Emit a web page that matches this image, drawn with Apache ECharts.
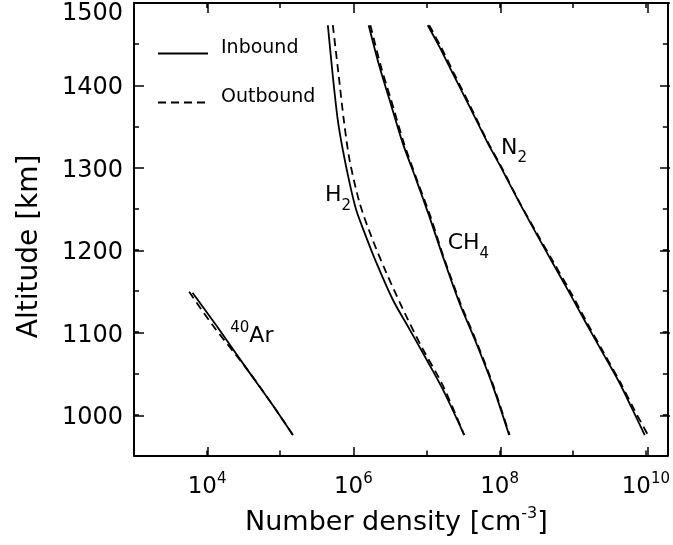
<!DOCTYPE html>
<html>
<head>
<meta charset="utf-8">
<script src="https://cdn.jsdelivr.net/npm/echarts@6/dist/echarts.min.js"></script>
<style>
html,body{margin:0;padding:0;background:#fff;}
#chart{width:673px;height:545px;}
</style>
</head>
<body>
<div id="chart"></div>
<script>
// ---- axis ranges & tick labels ----
const xMin = 1e3, xMax = 2e10;
const yMin = 950, yMax = 1500;
const xLabelExps = [4, 6, 8, 10];
const yLabelVals = [1000, 1100, 1200, 1300, 1400, 1500];

// ---- data: altitude [km] and number density [cm^-3] ----
const h2InAlt  = [1473, 1411, 1358, 1322, 1282, 1249, 1221, 1185, 1140, 1104, 1068, 1031, 975];
const h2InDen  = [4.48e5, 5.24e5, 6.12e5, 7.16e5, 8.85e5, 1.09e6, 1.42e6, 2.05e6, 3.44e6, 5.82e6, 9.84e6, 1.66e7, 3.28e7];
const h2OutAlt = [1473, 1411, 1358, 1310, 1258, 1217, 1173, 1120, 1080, 1036, 975];
const h2OutDen = [5.24e5, 6.32e5, 7.40e5, 8.85e5, 1.21e6, 1.75e6, 2.80e6, 5.25e6, 8.85e6, 1.66e7, 3.28e7];

const ch4InAlt  = [1473, 1423, 1383, 1330, 1286, 1241, 1193, 1136, 1088, 1036, 975];
const ch4InDen  = [1.62e6, 2.27e6, 3.11e6, 4.72e6, 7.19e6, 1.09e7, 1.66e7, 2.81e7, 4.73e7, 7.98e7, 1.35e8];
const ch4OutAlt = [1473, 1423, 1383, 1330, 1286, 1241, 1193, 1136, 1088, 1036, 975];
const ch4OutDen = [1.71e6, 2.38e6, 3.26e6, 4.90e6, 7.35e6, 1.13e7, 1.69e7, 2.89e7, 4.85e7, 8.15e7, 1.37e8];

const n2InAlt  = [1473, 1447, 1415, 1375, 1330, 1302, 1258, 1221, 1185, 1149, 1112, 1076, 1040, 1007, 975];
const n2InDen  = [1.04e7, 1.50e7, 2.27e7, 3.84e7, 6.86e7, 1.02e8, 1.85e8, 3.12e8, 5.25e8, 8.87e8, 1.50e9, 2.53e9, 4.27e9, 6.49e9, 9.67e9];
const n2OutAlt = [1473, 1447, 1415, 1375, 1330, 1302, 1258, 1221, 1185, 1149, 1112, 1076, 1040, 1007, 975];
const n2OutDen = [1.09e7, 1.57e7, 2.36e7, 3.96e7, 7.00e7, 1.04e8, 1.87e8, 3.20e8, 5.46e8, 9.31e8, 1.56e9, 2.62e9, 4.41e9, 6.84e9, 1.07e10];

const arInAlt  = [1148, 1108, 1056, 1011, 975];
const arInDen  = [6.32e3, 1.34e4, 3.45e4, 7.95e4, 1.49e5];
const arOutAlt = [1149, 1108, 1056, 1011, 975];
const arOutDen = [5.68e3, 1.20e4, 3.45e4, 7.95e4, 1.49e5];

// ---- species annotations (data coordinates) ----
const annText = ['{m|H}{s|2}', '{m|CH}{s|4}', '{m|N}{s|2}', '{p|40}{m|Ar}'];
const annDen  = [4.04e5, 1.92e7, 1.03e8, 2.04e4];
const annAlt  = [1266, 1208, 1324, 1095];

// ---- layout ----
const FONT = 'DejaVu Sans';
const W = 673, H = 545;
const G = {left: 134, right: 3, top: 3, bottom: 88};
const plotW = W - G.left - G.right, plotH = H - G.top - G.bottom;
const decade = plotW / (Math.log10(xMax) - Math.log10(xMin));
const gx = {
  left: G.left + decade * (xLabelExps[0] - Math.log10(xMin)),
  right: W - (G.left + decade * (xLabelExps[xLabelExps.length - 1] - Math.log10(xMin))),
  top: G.top, bottom: G.bottom
};
const gy = {
  left: G.left, right: G.right, top: G.top,
  bottom: H - (G.top + plotH * (yMax - yLabelVals[0]) / (yMax - yMin))
};

function zip(xs, ys) { return xs.map((x, i) => [x, ys[i]]); }

const solid = {color: '#000', width: 1.8, type: 'solid'};
const dashed = {color: '#000', width: 1.8, type: [8, 5]};

function ser(name, den, alt, ls, ann) {
  const s = {
    name: name, type: 'line', xAxisIndex: 0, yAxisIndex: 0,
    data: zip(den, alt), symbol: 'none', smooth: 0.3,
    lineStyle: ls, itemStyle: {color: '#000'}, z: name === 'Inbound' ? 3 : 2
  };
  if (ann != null) {
    s.markPoint = {
      silent: true, symbol: 'circle', symbolSize: 1,
      itemStyle: {color: 'rgba(0,0,0,0)'},
      label: {
        show: true, position: 'right', distance: 0, color: '#000',
        rich: {
          m: {fontFamily: FONT, fontSize: 22, lineHeight: 24, color: '#000'},
          s: {fontFamily: FONT, fontSize: 15, lineHeight: 15, padding: [21, 0, 0, 0], color: '#000'},
          p: {fontFamily: FONT, fontSize: 15, lineHeight: 15, padding: [0, 0, 17, 0], color: '#000'}
        }
      },
      data: [{coord: [annDen[ann], annAlt[ann]], label: {formatter: annText[ann]}}]
    };
  }
  return s;
}

const axisLineStyle = {show: true, onZero: false, lineStyle: {color: '#000', width: 2}};
const tickStyle = {color: '#000', width: 1.5};

const option = {
  animation: false,
  backgroundColor: '#fff',
  grid: [
    {left: G.left, right: G.right, top: G.top, bottom: G.bottom},
    {left: gx.left, right: gx.right, top: gx.top, bottom: gx.bottom},
    {left: gy.left, right: gy.right, top: gy.top, bottom: gy.bottom}
  ],
  legend: {
    left: 152, top: 34, orient: 'vertical', selectedMode: false,
    itemWidth: 50, itemHeight: 14, itemGap: 20, padding: 5,
    itemStyle: {opacity: 0, color: 'rgba(0,0,0,0)', borderWidth: 0},
    formatter: function (name) { return '{t|' + name + '}'; },
    textStyle: {
      fontFamily: FONT, fontSize: 19, color: '#000', padding: [0, 0, 0, 8],
      rich: {t: {fontFamily: FONT, fontSize: 19, lineHeight: 19, padding: [0, 0, 10, 0], color: '#000'}}
    },
    data: ['Inbound', 'Outbound']
  },
  xAxis: [
    {
      gridIndex: 0, type: 'log', min: xMin, max: xMax, position: 'bottom',
      axisLine: axisLineStyle,
      axisTick: {show: true, inside: true, length: 5, lineStyle: tickStyle},
      splitLine: {show: false},
      axisLabel: {
        show: true, margin: 19, color: '#000',
        formatter: function (v) {
          const lg = Math.log10(v), e = Math.round(lg);
          if (Math.abs(lg - e) > 1e-6 || xLabelExps.indexOf(e) < 0) return '';
          return '{b|10}{s|' + e + '}';
        },
        rich: {
          b: {fontFamily: FONT, fontSize: 23, lineHeight: 24, color: '#000'},
          s: {fontFamily: FONT, fontSize: 15, lineHeight: 15, padding: [0, 0, 14, 0], color: '#000'}
        }
      },
      name: '{b|Number density [cm}{s|-3}{b|]}',
      nameLocation: 'middle', nameGap: 44,
      nameTextStyle: {
        color: '#000', padding: [0, 9, 0, 0],
        rich: {
          b: {fontFamily: FONT, fontSize: 27, lineHeight: 34, color: '#000'},
          s: {fontFamily: FONT, fontSize: 16, lineHeight: 16, padding: [0, 0, 18, 0], color: '#000'}
        }
      }
    },
    {
      gridIndex: 0, type: 'log', min: xMin, max: xMax, position: 'top',
      axisLine: axisLineStyle,
      axisTick: {show: true, inside: true, length: 5, lineStyle: tickStyle},
      splitLine: {show: false}, axisLabel: {show: false}
    },
    {
      gridIndex: 1, type: 'value', min: xLabelExps[0], max: xLabelExps[xLabelExps.length - 1], interval: 2,
      position: 'bottom', axisLine: {show: false},
      axisTick: {show: true, inside: true, length: 10, lineStyle: tickStyle},
      splitLine: {show: false}, axisLabel: {show: false}
    },
    {
      gridIndex: 1, type: 'value', min: xLabelExps[0], max: xLabelExps[xLabelExps.length - 1], interval: 2,
      position: 'top', axisLine: {show: false},
      axisTick: {show: true, inside: true, length: 10, lineStyle: tickStyle},
      splitLine: {show: false}, axisLabel: {show: false}
    },
    {gridIndex: 2, type: 'value', show: false}
  ],
  yAxis: [
    {
      gridIndex: 0, type: 'value', min: yMin, max: yMax, interval: 50, position: 'left',
      axisLine: axisLineStyle,
      axisTick: {show: true, inside: true, length: 5, lineStyle: tickStyle},
      splitLine: {show: false}, axisLabel: {show: false},
      name: 'Altitude [km]', nameLocation: 'middle', nameGap: 90,
      nameTextStyle: {fontFamily: FONT, fontSize: 28, color: '#000', padding: [0, 34, 0, 0]}
    },
    {
      gridIndex: 0, type: 'value', min: yMin, max: yMax, interval: 50, position: 'right',
      axisLine: axisLineStyle,
      axisTick: {show: true, inside: true, length: 5, lineStyle: tickStyle},
      splitLine: {show: false}, axisLabel: {show: false}
    },
    {gridIndex: 1, type: 'value', show: false},
    {
      gridIndex: 2, type: 'value', min: yLabelVals[0], max: yLabelVals[yLabelVals.length - 1], interval: 100,
      position: 'left', axisLine: {show: false},
      axisTick: {show: true, inside: true, length: 10, lineStyle: tickStyle},
      splitLine: {show: false},
      axisLabel: {
        show: true, margin: 11, color: '#000',
        formatter: function (v) {
          if (yLabelVals.indexOf(v) < 0) return '';
          return (v === yLabelVals[yLabelVals.length - 1] ? '{t|' : '{n|') + v + '}';
        },
        rich: {
          n: {fontFamily: FONT, fontSize: 24, color: '#000', padding: [5, 0, 0, 0]},
          t: {fontFamily: FONT, fontSize: 24, color: '#000', padding: [22, 0, 0, 0]}
        }
      }
    },
    {
      gridIndex: 2, type: 'value', min: yLabelVals[0], max: yLabelVals[yLabelVals.length - 1], interval: 100,
      position: 'right', axisLine: {show: false},
      axisTick: {show: true, inside: true, length: 10, lineStyle: tickStyle},
      splitLine: {show: false}, axisLabel: {show: false}
    }
  ],
  series: [
    ser('Outbound', h2OutDen, h2OutAlt, dashed),
    ser('Inbound', h2InDen, h2InAlt, solid, 0),
    ser('Outbound', ch4OutDen, ch4OutAlt, dashed),
    ser('Inbound', ch4InDen, ch4InAlt, solid, 1),
    ser('Outbound', n2OutDen, n2OutAlt, dashed),
    ser('Inbound', n2InDen, n2InAlt, solid, 2),
    ser('Outbound', arOutDen, arOutAlt, dashed),
    ser('Inbound', arInDen, arInAlt, solid, 3)
  ]
};

const chart = echarts.init(document.getElementById('chart'), null, {renderer: 'canvas'});
chart.setOption(option);
</script>
</body>
</html>
